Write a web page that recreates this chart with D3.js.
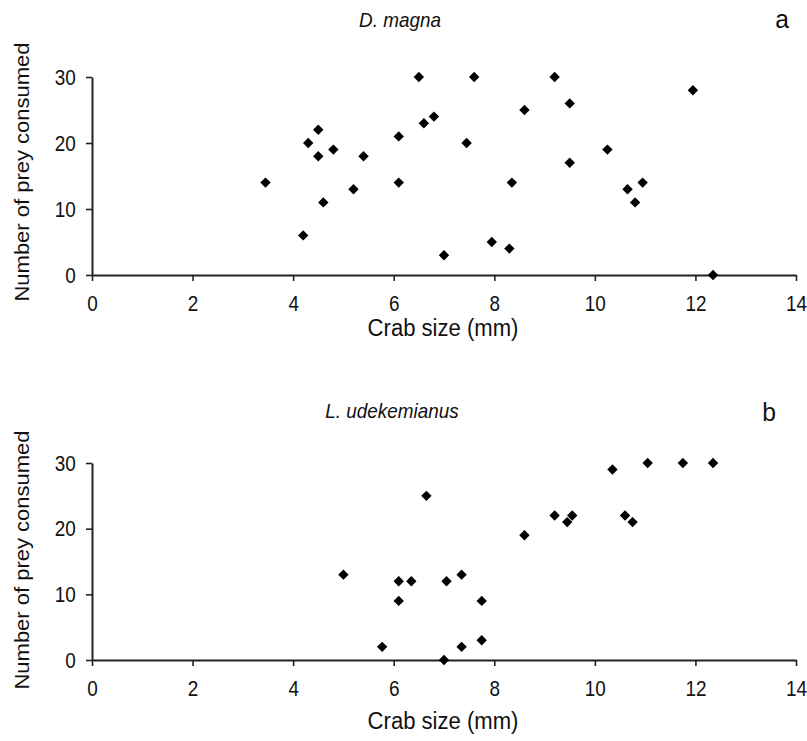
<!DOCTYPE html>
<html>
<head>
<meta charset="utf-8">
<script src="https://cdn.jsdelivr.net/npm/d3@7"></script>
<style>
  html, body { margin: 0; padding: 0; background: #fff; }
  svg { display: block; font-family: "Liberation Sans", Arial, sans-serif; }
</style>
</head>
<body>
<svg id="chart" width="807" height="741"></svg>
<script>
// Panel a: D. magna
const sizeA = [3.45, 4.3, 4.5, 4.5, 4.8, 4.6, 4.2, 5.2, 5.4, 6.1, 6.1, 6.5, 6.6, 6.8, 7.0,
               7.6, 7.45, 8.6, 9.2, 9.5, 9.5, 8.35, 7.95, 8.3, 10.25, 10.65, 10.95, 10.8, 11.95, 12.35];
const preyA = [14, 20, 22, 18, 19, 11, 6, 13, 18, 21, 14, 30, 23, 24, 3,
               30, 20, 25, 30, 26, 17, 14, 5, 4, 19, 13, 14, 11, 28, 0];
// Panel b: L. udekemianus
const sizeB = [5.0, 6.1, 6.35, 6.1, 5.77, 6.65, 7.05, 7.35, 7.75, 7.35, 7.75, 7.0,
               8.6, 9.2, 9.45, 9.55, 10.35, 10.6, 10.75, 11.05, 11.75, 12.35];
const preyB = [13, 12, 12, 9, 2, 25, 12, 13, 9, 2, 3, 0,
               19, 22, 21, 22, 29, 22, 21, 30, 30, 30];
const xTicks = [0, 2, 4, 6, 8, 10, 12, 14];
const yTicks = [0, 10, 20, 30];
const titles = ["D. magna", "L. udekemianus"];
const letters = ["a", "b"];
const xTitle = "Crab size (mm)";
const yTitle = "Number of prey consumed";

const svg = d3.select("#chart");

const panels = [
  { sx: sizeA, py: preyA, top: 77, bottom: 275, title: titles[0], letter: letters[0],
    titleX: 400, titleY: 27, letterX: 782, letterY: 28, xTitleY: 336, yTitleY: 172 },
  { sx: sizeB, py: preyB, top: 463, bottom: 660, title: titles[1], letter: letters[1],
    titleX: 392, titleY: 418, letterX: 769, letterY: 421, xTitleY: 729, yTitleY: 560 }
];

const x = d3.scaleLinear().domain([0, 14]).range([92, 796]);

function hText(g, px, py, size, str, italic, sx) {
  return g.append("text")
    .attr("transform", `translate(${px},${py}) scale(${sx},1)`)
    .attr("text-anchor", "middle")
    .attr("font-size", size)
    .attr("font-style", italic ? "italic" : "normal")
    .attr("fill", "#111")
    .text(str);
}

panels.forEach(p => {
  const y = d3.scaleLinear().domain([0, 30]).range([p.bottom, p.top]);
  const g = svg.append("g");

  const xAxis = d3.axisBottom(x).tickValues(xTicks).tickSize(6).tickSizeOuter(0).tickPadding(14);
  const yAxis = d3.axisLeft(y).tickValues(yTicks).tickSize(6).tickSizeOuter(0).tickPadding(13);

  const gx = g.append("g").attr("transform", `translate(0,${p.bottom})`).call(xAxis);
  const gy = g.append("g").attr("transform", `translate(${x(0)},0)`).call(yAxis);

  [gx, gy].forEach(a => {
    a.select(".domain").attr("stroke", "#222").attr("stroke-width", 2);
    a.selectAll(".tick line").attr("stroke", "#222").attr("stroke-width", 1.6);
    a.selectAll(".tick text").attr("fill", "#111").attr("font-size", 22)
      .attr("font-family", "'Liberation Sans', Arial, sans-serif")
      .attr("transform", "scale(0.86,1)");
  });

  const pts = p.sx.map((v, i) => ({ x: v, y: p.py[i] }));
  g.append("g").selectAll("path").data(pts).join("path")
    .attr("d", d3.symbol(d3.symbolSquare, 54))
    .attr("transform", d => `translate(${x(d.x)},${y(d.y)}) rotate(45)`)
    .attr("fill", "#000");

  hText(g, p.titleX, p.titleY, 21, p.title, true, 0.9);
  hText(g, p.letterX, p.letterY, 26, p.letter, false, 0.95);
  hText(g, 443, p.xTitleY, 23, xTitle, false, 0.96);

  g.append("text").attr("transform", `translate(29,${p.yTitleY}) rotate(-90) scale(1,0.92)`)
    .attr("text-anchor", "middle").attr("font-size", 22).attr("fill", "#111").text(yTitle);
});
</script>
</body>
</html>
